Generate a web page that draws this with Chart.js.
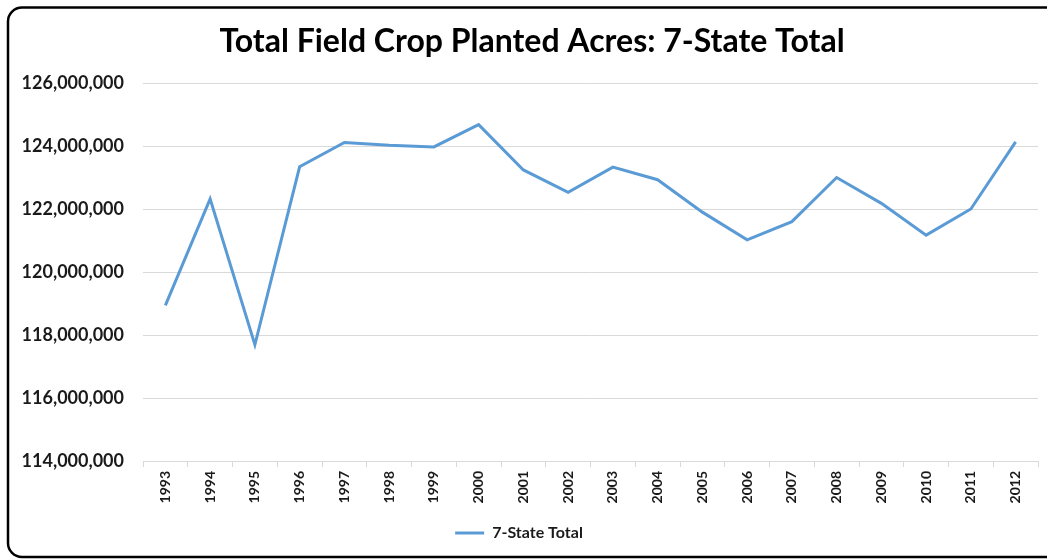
<!DOCTYPE html>
<html>
<head>
<meta charset="utf-8">
<script src="https://cdn.jsdelivr.net/npm/chart.js@4/dist/chart.umd.min.js"></script>
<style>
  html, body { margin: 0; padding: 0; background: #fff; }
  #wrap { position: relative; width: 1047px; height: 559px; }
</style>
</head>
<body>
<div id="wrap"><canvas id="c"></canvas></div>
<script>
const years = ["1993","1994","1995","1996","1997","1998","1999","2000","2001","2002",
               "2003","2004","2005","2006","2007","2008","2009","2010","2011","2012"];
const totalAcres = [118940000,122320000,117690000,123340000,124110000,124020000,123970000,124680000,123240000,122530000,
                    123330000,122930000,121900000,121020000,121600000,123000000,122180000,121170000,122000000,124130000];
const seriesName = "7-State Total";
const chartTitle = "Total Field Crop Planted Acres: 7-State Total";
const yMin = 114000000, yMax = 126000000, yStep = 2000000;

const FONT = "Lato, Calibri, 'Liberation Sans', sans-serif";
const BLUE = "#5B9BD5";
const GRID = "#D9D9D9";
const TEXT = "#1a1a1a";

const framePlugin = {
  id: 'frame',
  afterLayout(chart) {
    // Excel centres the title over the whole chart frame
    if (chart.titleBlock) {
      chart.titleBlock.left += 13;
      chart.titleBlock.right += 13;
    }
  },
  afterDraw(chart) {
    const ctx = chart.ctx;
    ctx.save();
    ctx.strokeStyle = '#000';
    ctx.lineWidth = 2.5;
    ctx.beginPath();
    ctx.roundRect(8, 7.5, 1060, 549.5, 14);
    ctx.stroke();
    ctx.restore();
  }
};

new Chart(document.getElementById('c'), {
  type: 'line',
  data: {
    labels: years,
    datasets: [{
      label: seriesName,
      data: totalAcres,
      borderColor: BLUE,
      backgroundColor: BLUE,
      borderWidth: 3,
      pointRadius: 0,
      pointHoverRadius: 0,
      tension: 0,
      fill: false
    }]
  },
  options: {
    responsive: true,
    maintainAspectRatio: false,
    animation: false,
    events: [],
    layout: { padding: { top: 0, left: 0, right: 9, bottom: 8 } },
    plugins: {
      title: {
        display: true,
        text: chartTitle,
        color: '#000',
        font: { family: FONT, size: 32, weight: 'bold', lineHeight: 1.125 },
        padding: { top: 24, bottom: 23 }
      },
      legend: {
        display: true,
        position: 'bottom',
        labels: {
          usePointStyle: true,
          pointStyle: 'line',
          pointStyleWidth: 29,
          color: TEXT,
          font: { family: FONT, size: 16, weight: 'bold' },
          padding: 8
        }
      },
      tooltip: { enabled: false }
    },
    scales: {
      x: {
        offset: true,
        grid: {
          display: true,
          offset: true,
          drawOnChartArea: false,
          drawTicks: true,
          tickLength: 6,
          color: GRID
        },
        border: { display: true, color: GRID, width: 1 },
        ticks: {
          autoSkip: false,
          minRotation: 90,
          maxRotation: 90,
          padding: 4,
          color: TEXT,
          font: { family: FONT, size: 14, weight: 'bold' }
        },
        afterFit(scale) { scale.height = 56; }
      },
      y: {
        min: yMin,
        max: yMax,
        grid: { color: GRID, drawTicks: false, lineWidth: 1 },
        border: { display: false },
        ticks: {
          stepSize: yStep,
          padding: 19,
          color: TEXT,
          font: { family: FONT, size: 18, weight: 'bold' },
          callback: (v) => v.toLocaleString('en-US')
        },
        afterFit(scale) { scale.width = 143; }
      }
    }
  },
  plugins: [framePlugin]
});
</script>
</body>
</html>
